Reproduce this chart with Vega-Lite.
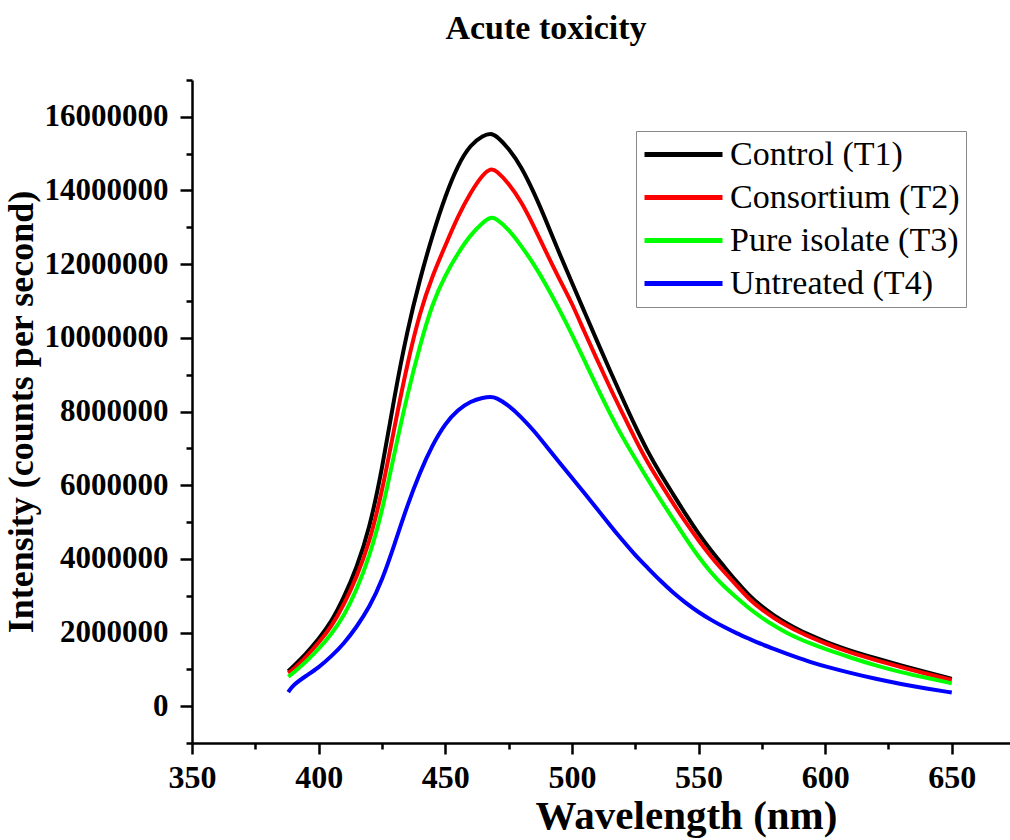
{
"$schema": "https://vega.github.io/schema/vega-lite/v6.json",
"width": 818, "height": 663,
"autosize": "none",
"padding": {"left": 192, "top": 80, "right": 0, "bottom": 97},
"background": "white",
"title": {"text": "Acute toxicity", "font": "Liberation Serif", "fontSize": 34, "fontWeight": "bold", "color": "black", "anchor": "middle", "dx": -55, "dy": 13, "offset": 4, "baseline": "alphabetic"},
"data": {"values": [
{"nm":388,"series":"Control (T1)","counts":950000},{"nm":390,"series":"Control (T1)","counts":1080000},{"nm":395,"series":"Control (T1)","counts":1420000},{"nm":400,"series":"Control (T1)","counts":1820000},{"nm":405,"series":"Control (T1)","counts":2280000},{"nm":410,"series":"Control (T1)","counts":2950000},{"nm":415,"series":"Control (T1)","counts":3750000},{"nm":420,"series":"Control (T1)","counts":4800000},{"nm":425,"series":"Control (T1)","counts":6400000},{"nm":430,"series":"Control (T1)","counts":8450000},{"nm":435,"series":"Control (T1)","counts":10200000},{"nm":440,"series":"Control (T1)","counts":11600000},{"nm":445,"series":"Control (T1)","counts":12800000},{"nm":450,"series":"Control (T1)","counts":13850000},{"nm":455,"series":"Control (T1)","counts":14700000},{"nm":460,"series":"Control (T1)","counts":15250000},{"nm":465,"series":"Control (T1)","counts":15500000},{"nm":468,"series":"Control (T1)","counts":15550000},{"nm":470,"series":"Control (T1)","counts":15500000},{"nm":475,"series":"Control (T1)","counts":15150000},{"nm":480,"series":"Control (T1)","counts":14650000},{"nm":485,"series":"Control (T1)","counts":13950000},{"nm":490,"series":"Control (T1)","counts":13150000},{"nm":495,"series":"Control (T1)","counts":12300000},{"nm":500,"series":"Control (T1)","counts":11500000},{"nm":505,"series":"Control (T1)","counts":10700000},{"nm":510,"series":"Control (T1)","counts":9900000},{"nm":515,"series":"Control (T1)","counts":9120000},{"nm":520,"series":"Control (T1)","counts":8350000},{"nm":525,"series":"Control (T1)","counts":7600000},{"nm":530,"series":"Control (T1)","counts":6900000},{"nm":535,"series":"Control (T1)","counts":6300000},{"nm":540,"series":"Control (T1)","counts":5750000},{"nm":545,"series":"Control (T1)","counts":5200000},{"nm":550,"series":"Control (T1)","counts":4680000},{"nm":555,"series":"Control (T1)","counts":4220000},{"nm":560,"series":"Control (T1)","counts":3800000},{"nm":565,"series":"Control (T1)","counts":3380000},{"nm":570,"series":"Control (T1)","counts":3000000},{"nm":575,"series":"Control (T1)","counts":2700000},{"nm":580,"series":"Control (T1)","counts":2450000},{"nm":585,"series":"Control (T1)","counts":2240000},{"nm":590,"series":"Control (T1)","counts":2050000},{"nm":595,"series":"Control (T1)","counts":1900000},{"nm":600,"series":"Control (T1)","counts":1750000},{"nm":610,"series":"Control (T1)","counts":1500000},{"nm":620,"series":"Control (T1)","counts":1300000},{"nm":630,"series":"Control (T1)","counts":1100000},{"nm":640,"series":"Control (T1)","counts":920000},{"nm":650,"series":"Control (T1)","counts":740000},
{"nm":388,"series":"Consortium (T2)","counts":900000},{"nm":390,"series":"Consortium (T2)","counts":1000000},{"nm":395,"series":"Consortium (T2)","counts":1330000},{"nm":400,"series":"Consortium (T2)","counts":1720000},{"nm":405,"series":"Consortium (T2)","counts":2150000},{"nm":410,"series":"Consortium (T2)","counts":2750000},{"nm":415,"series":"Consortium (T2)","counts":3500000},{"nm":420,"series":"Consortium (T2)","counts":4420000},{"nm":425,"series":"Consortium (T2)","counts":5800000},{"nm":430,"series":"Consortium (T2)","counts":7600000},{"nm":435,"series":"Consortium (T2)","counts":9300000},{"nm":440,"series":"Consortium (T2)","counts":10700000},{"nm":445,"series":"Consortium (T2)","counts":11700000},{"nm":450,"series":"Consortium (T2)","counts":12500000},{"nm":455,"series":"Consortium (T2)","counts":13300000},{"nm":460,"series":"Consortium (T2)","counts":13950000},{"nm":465,"series":"Consortium (T2)","counts":14450000},{"nm":468,"series":"Consortium (T2)","counts":14600000},{"nm":470,"series":"Consortium (T2)","counts":14550000},{"nm":475,"series":"Consortium (T2)","counts":14200000},{"nm":480,"series":"Consortium (T2)","counts":13700000},{"nm":485,"series":"Consortium (T2)","counts":13030000},{"nm":490,"series":"Consortium (T2)","counts":12300000},{"nm":495,"series":"Consortium (T2)","counts":11600000},{"nm":500,"series":"Consortium (T2)","counts":10950000},{"nm":505,"series":"Consortium (T2)","counts":10150000},{"nm":510,"series":"Consortium (T2)","counts":9400000},{"nm":515,"series":"Consortium (T2)","counts":8650000},{"nm":520,"series":"Consortium (T2)","counts":7950000},{"nm":525,"series":"Consortium (T2)","counts":7250000},{"nm":530,"series":"Consortium (T2)","counts":6600000},{"nm":535,"series":"Consortium (T2)","counts":6050000},{"nm":540,"series":"Consortium (T2)","counts":5500000},{"nm":545,"series":"Consortium (T2)","counts":4980000},{"nm":550,"series":"Consortium (T2)","counts":4500000},{"nm":555,"series":"Consortium (T2)","counts":4050000},{"nm":560,"series":"Consortium (T2)","counts":3650000},{"nm":565,"series":"Consortium (T2)","counts":3280000},{"nm":570,"series":"Consortium (T2)","counts":2900000},{"nm":575,"series":"Consortium (T2)","counts":2620000},{"nm":580,"series":"Consortium (T2)","counts":2380000},{"nm":585,"series":"Consortium (T2)","counts":2180000},{"nm":590,"series":"Consortium (T2)","counts":2000000},{"nm":595,"series":"Consortium (T2)","counts":1850000},{"nm":600,"series":"Consortium (T2)","counts":1700000},{"nm":610,"series":"Consortium (T2)","counts":1450000},{"nm":620,"series":"Consortium (T2)","counts":1250000},{"nm":630,"series":"Consortium (T2)","counts":1060000},{"nm":640,"series":"Consortium (T2)","counts":880000},{"nm":650,"series":"Consortium (T2)","counts":710000},
{"nm":388,"series":"Pure isolate (T3)","counts":800000},{"nm":390,"series":"Pure isolate (T3)","counts":900000},{"nm":395,"series":"Pure isolate (T3)","counts":1200000},{"nm":400,"series":"Pure isolate (T3)","counts":1550000},{"nm":405,"series":"Pure isolate (T3)","counts":1950000},{"nm":410,"series":"Pure isolate (T3)","counts":2450000},{"nm":415,"series":"Pure isolate (T3)","counts":3150000},{"nm":420,"series":"Pure isolate (T3)","counts":4050000},{"nm":425,"series":"Pure isolate (T3)","counts":5250000},{"nm":430,"series":"Pure isolate (T3)","counts":6900000},{"nm":435,"series":"Pure isolate (T3)","counts":8450000},{"nm":440,"series":"Pure isolate (T3)","counts":9800000},{"nm":445,"series":"Pure isolate (T3)","counts":10950000},{"nm":450,"series":"Pure isolate (T3)","counts":11700000},{"nm":455,"series":"Pure isolate (T3)","counts":12300000},{"nm":460,"series":"Pure isolate (T3)","counts":12800000},{"nm":465,"series":"Pure isolate (T3)","counts":13150000},{"nm":468,"series":"Pure isolate (T3)","counts":13280000},{"nm":470,"series":"Pure isolate (T3)","counts":13250000},{"nm":475,"series":"Pure isolate (T3)","counts":12950000},{"nm":480,"series":"Pure isolate (T3)","counts":12500000},{"nm":485,"series":"Pure isolate (T3)","counts":12000000},{"nm":490,"series":"Pure isolate (T3)","counts":11420000},{"nm":495,"series":"Pure isolate (T3)","counts":10780000},{"nm":500,"series":"Pure isolate (T3)","counts":10100000},{"nm":505,"series":"Pure isolate (T3)","counts":9380000},{"nm":510,"series":"Pure isolate (T3)","counts":8650000},{"nm":515,"series":"Pure isolate (T3)","counts":7950000},{"nm":520,"series":"Pure isolate (T3)","counts":7300000},{"nm":525,"series":"Pure isolate (T3)","counts":6720000},{"nm":530,"series":"Pure isolate (T3)","counts":6150000},{"nm":535,"series":"Pure isolate (T3)","counts":5600000},{"nm":540,"series":"Pure isolate (T3)","counts":5080000},{"nm":545,"series":"Pure isolate (T3)","counts":4550000},{"nm":550,"series":"Pure isolate (T3)","counts":4050000},{"nm":555,"series":"Pure isolate (T3)","counts":3620000},{"nm":560,"series":"Pure isolate (T3)","counts":3250000},{"nm":565,"series":"Pure isolate (T3)","counts":2950000},{"nm":570,"series":"Pure isolate (T3)","counts":2650000},{"nm":575,"series":"Pure isolate (T3)","counts":2400000},{"nm":580,"series":"Pure isolate (T3)","counts":2180000},{"nm":585,"series":"Pure isolate (T3)","counts":1980000},{"nm":590,"series":"Pure isolate (T3)","counts":1820000},{"nm":595,"series":"Pure isolate (T3)","counts":1680000},{"nm":600,"series":"Pure isolate (T3)","counts":1550000},{"nm":610,"series":"Pure isolate (T3)","counts":1320000},{"nm":620,"series":"Pure isolate (T3)","counts":1100000},{"nm":630,"series":"Pure isolate (T3)","counts":920000},{"nm":640,"series":"Pure isolate (T3)","counts":770000},{"nm":650,"series":"Pure isolate (T3)","counts":620000},
{"nm":388,"series":"Untreated (T4)","counts":380000},{"nm":390,"series":"Untreated (T4)","counts":580000},{"nm":395,"series":"Untreated (T4)","counts":820000},{"nm":400,"series":"Untreated (T4)","counts":1050000},{"nm":405,"series":"Untreated (T4)","counts":1350000},{"nm":410,"series":"Untreated (T4)","counts":1700000},{"nm":415,"series":"Untreated (T4)","counts":2150000},{"nm":420,"series":"Untreated (T4)","counts":2680000},{"nm":425,"series":"Untreated (T4)","counts":3400000},{"nm":430,"series":"Untreated (T4)","counts":4400000},{"nm":435,"series":"Untreated (T4)","counts":5450000},{"nm":440,"series":"Untreated (T4)","counts":6350000},{"nm":445,"series":"Untreated (T4)","counts":7100000},{"nm":450,"series":"Untreated (T4)","counts":7680000},{"nm":455,"series":"Untreated (T4)","counts":8050000},{"nm":460,"series":"Untreated (T4)","counts":8280000},{"nm":465,"series":"Untreated (T4)","counts":8380000},{"nm":468,"series":"Untreated (T4)","counts":8400000},{"nm":470,"series":"Untreated (T4)","counts":8380000},{"nm":475,"series":"Untreated (T4)","counts":8170000},{"nm":480,"series":"Untreated (T4)","counts":7850000},{"nm":485,"series":"Untreated (T4)","counts":7480000},{"nm":490,"series":"Untreated (T4)","counts":7050000},{"nm":495,"series":"Untreated (T4)","counts":6620000},{"nm":500,"series":"Untreated (T4)","counts":6200000},{"nm":505,"series":"Untreated (T4)","counts":5780000},{"nm":510,"series":"Untreated (T4)","counts":5350000},{"nm":515,"series":"Untreated (T4)","counts":4920000},{"nm":520,"series":"Untreated (T4)","counts":4500000},{"nm":525,"series":"Untreated (T4)","counts":4100000},{"nm":530,"series":"Untreated (T4)","counts":3750000},{"nm":535,"series":"Untreated (T4)","counts":3400000},{"nm":540,"series":"Untreated (T4)","counts":3080000},{"nm":545,"series":"Untreated (T4)","counts":2800000},{"nm":550,"series":"Untreated (T4)","counts":2550000},{"nm":555,"series":"Untreated (T4)","counts":2340000},{"nm":560,"series":"Untreated (T4)","counts":2150000},{"nm":565,"series":"Untreated (T4)","counts":1980000},{"nm":570,"series":"Untreated (T4)","counts":1830000},{"nm":575,"series":"Untreated (T4)","counts":1680000},{"nm":580,"series":"Untreated (T4)","counts":1550000},{"nm":585,"series":"Untreated (T4)","counts":1420000},{"nm":590,"series":"Untreated (T4)","counts":1300000},{"nm":595,"series":"Untreated (T4)","counts":1180000},{"nm":600,"series":"Untreated (T4)","counts":1080000},{"nm":610,"series":"Untreated (T4)","counts":900000},{"nm":620,"series":"Untreated (T4)","counts":740000},{"nm":630,"series":"Untreated (T4)","counts":600000},{"nm":640,"series":"Untreated (T4)","counts":480000},{"nm":650,"series":"Untreated (T4)","counts":370000}
]},
"mark": {"type": "line", "strokeWidth": 4, "interpolate": "basis", "clip": true},
"encoding": {
  "x": {"field": "nm", "type": "quantitative",
    "scale": {"domain": [350, 673], "nice": false, "zero": false},
    "axis": {"values": [350,375,400,425,450,475,500,525,550,575,600,625,650],
      "labelExpr": "datum.value % 50 == 0 ? datum.label : ''",
      "tickSize": {"condition": {"test": "datum.value % 50 == 0", "value": 11}, "value": 6},
      "tickWidth": 2.5, "tickColor": "black", "domainColor": "black", "domainWidth": 2.5,
      "labelFont": "Liberation Serif", "labelFontSize": 32, "labelFontWeight": "bold", "labelColor": "black",
      "labelPadding": 8, "labelFlush": false, "labelOverlap": false, "grid": false,
      "title": "Wavelength (nm)", "titleFont": "Liberation Serif", "titleFontSize": 41, "titleFontWeight": "bold", "titleColor": "black",
      "titlePadding": 3, "titleX": 494}},
  "y": {"field": "counts", "type": "quantitative",
    "scale": {"domain": [-1000000, 17000000], "nice": false, "zero": false},
    "axis": {"values": [-1000000,0,1000000,2000000,3000000,4000000,5000000,6000000,7000000,8000000,9000000,10000000,11000000,12000000,13000000,14000000,15000000,16000000,17000000],
      "labelExpr": "datum.value >= 0 && datum.value % 2000000 == 0 ? format(datum.value, 'd') : ''",
      "tickSize": {"condition": {"test": "datum.value % 2000000 == 0", "value": 12}, "value": 6},
      "tickWidth": 2.5, "tickColor": "black", "domainColor": "black", "domainWidth": 2.5,
      "labelFont": "Liberation Serif", "labelFontSize": 31, "labelFontWeight": "bold", "labelColor": "black",
      "labelPadding": 12, "labelOverlap": false, "labelFlush": false, "grid": false,
      "title": "Intensity (counts per second)", "titleFont": "Liberation Serif", "titleFontSize": 36, "titleFontWeight": "bold", "titleColor": "black",
      "titlePadding": 4}},
  "color": {"field": "series", "type": "nominal",
    "scale": {"domain": ["Control (T1)", "Consortium (T2)", "Pure isolate (T3)", "Untreated (T4)"], "range": ["#000000", "#ff0000", "#00ff00", "#0000ff"]},
    "legend": {"orient": "none", "legendX": 444, "legendY": 51, "title": null,
      "symbolType": "M-1,0H4.2", "symbolSize": 900, "symbolStrokeWidth": 5,
      "labelFont": "Liberation Serif", "labelFontSize": 34, "labelColor": "black", "labelOffset": 53, "labelLimit": 400,
      "rowPadding": 8, "padding": 6, "strokeColor": "#888888", "fillColor": "white"}}
},
"config": {"view": {"stroke": null}}
}
